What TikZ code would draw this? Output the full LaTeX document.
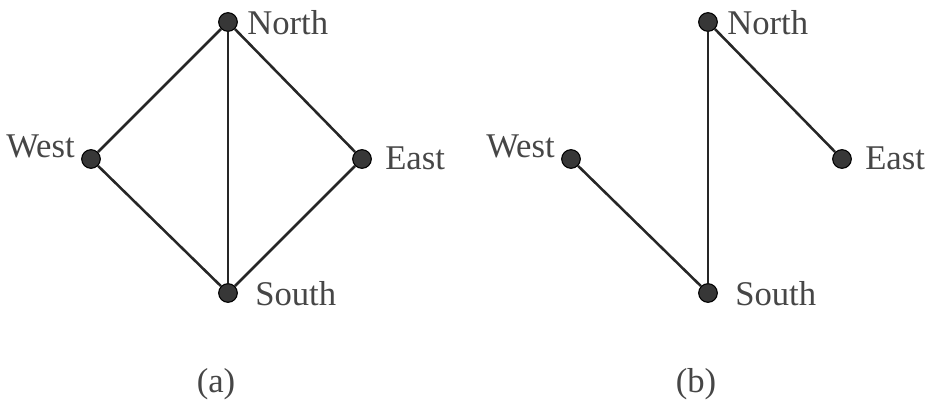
\documentclass[tikz,border=0pt]{standalone}
\usepackage{fontspec}
\setmainfont{Liberation Serif}
\usepackage{tikz}
\usetikzlibrary{positioning}
\definecolor{mydark}{RGB}{55, 55, 55}
\definecolor{mytext}{RGB}{70, 70, 70}
\tikzset{vertex/.style = {circle, draw = black, fill = mydark, line width = 0.8pt, inner sep = 0pt, minimum size = 14pt},
  edge/.style = {line width = 1.9pt, black!85},
  lbl/.style = {text = mytext, font = \fontsize{26}{30}\selectfont, inner sep = 0pt}}

\begin{document}
\begin{tikzpicture}[x = 0.75pt, y = -0.75pt]
\useasboundingbox (0,0) rectangle (937,408);

% (a)
\begin{scope}
\node[vertex] (aN) at (228, 22) {};
\node[vertex] (aW) at (91, 159) {};
\node[vertex] (aE) at (362, 159) {};
\node[vertex] (aS) at (228, 293) {};
\draw[edge] (aW) -- (aN);
\draw[edge] (aN) -- (aE);
\draw[edge] (aN) -- (aS);
\draw[edge] (aW) -- (aS);
\draw[edge] (aE) -- (aS);
\node[lbl, anchor = base west] (aNl) at (247, 34) {North};
\node[lbl, anchor = base east] (aWl) at (75, 157) {West};
\node[lbl, anchor = base west] (aEl) at (385, 169) {East};
\node[lbl, anchor = base west] (aSl) at (255, 305) {South};
\node[lbl, anchor = base] (acap) at (216, 392) {(a)};
\end{scope}

% (b)
\begin{scope}[xshift = 360pt]
\node[vertex] (bN) at (228, 22) {};
\node[vertex] (bW) at (91, 159) {};
\node[vertex] (bE) at (362, 159) {};
\node[vertex] (bS) at (228, 293) {};
\draw[edge] (bN) -- (bE);
\draw[edge] (bN) -- (bS);
\draw[edge] (bW) -- (bS);
\node[lbl, anchor = base west] (bNl) at (247, 34) {North};
\node[lbl, anchor = base east] (bWl) at (75, 157) {West};
\node[lbl, anchor = base west] (bEl) at (385, 169) {East};
\node[lbl, anchor = base west] (bSl) at (255, 305) {South};
\node[lbl, anchor = base] (bcap) at (216, 392) {(b)};
\end{scope}

\end{tikzpicture}
\end{document}
